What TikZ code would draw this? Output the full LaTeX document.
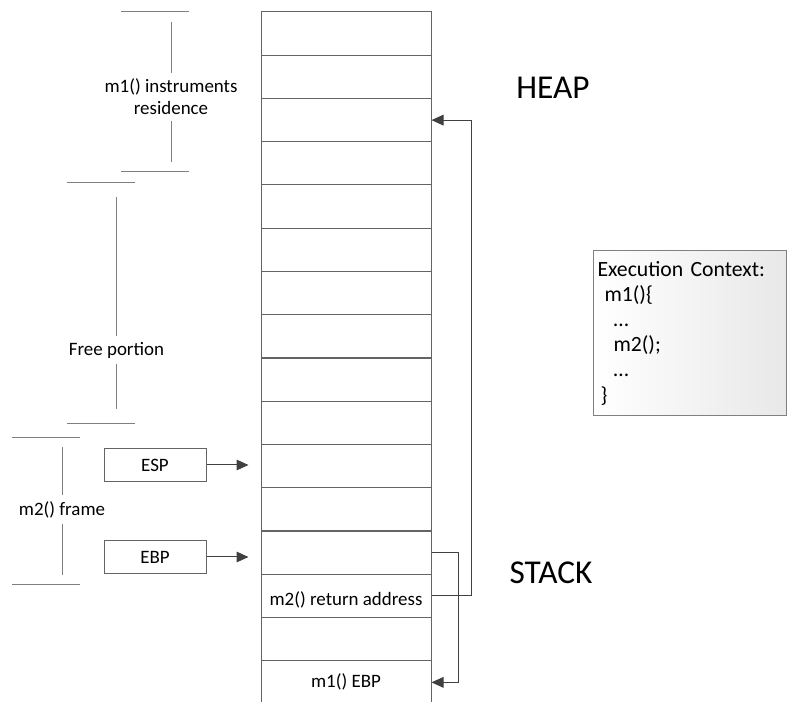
\documentclass[tikz,border=0pt]{standalone}
\usepackage{fontspec}
\setmainfont{Carlito}
\usetikzlibrary{arrows.meta}

\definecolor{rimgray}{RGB}{100,100,100}
\definecolor{bargray}{RGB}{128,128,128}
\definecolor{tipgray}{RGB}{64,64,64}

\newcommand{\smallfont}{\fontsize{14.2pt}{16.5pt}\selectfont}
\newcommand{\ctxfont}{\fontsize{16.3pt}{18.9pt}\selectfont}
\newcommand{\bigfont}{\fontsize{25pt}{29pt}\selectfont}

\tikzset{
  cell/.style={draw=rimgray, line width=0.75pt, minimum width=127.5pt,
    minimum height=32.44pt, inner sep=0pt, font=\smallfont},
  ptrbox/.style={draw=rimgray, line width=0.75pt, minimum width=76.5pt,
    minimum height=25pt, inner sep=0pt, font=\smallfont},
  lbl/.style={font=\smallfont, align=center, inner sep=4.5pt},
  brk/.style={draw=bargray, line width=0.75pt},
  ptr/.style={draw=tipgray, line width=0.75pt,
    -{Triangle[length=9pt,width=8pt]}},
  ctxbox/.style={draw=bargray, line width=0.75pt, left color=white,
    right color=black!9, align=left, font=\ctxfont, text width=138.75pt,
    minimum height=123.75pt, inner xsep=3pt, inner ysep=8pt,
    anchor=north west},
}

\begin{document}
\begin{tikzpicture}[x=0.75pt,y=0.75pt,yscale=-1,xscale=1]
  \useasboundingbox (0,0) rectangle (790,702);

  % stack column, one cell per slot
  \foreach \i in {0,...,15}
    \node[cell] (r\i) at (346,33.625+43.25*\i) {};
  \node[font=\smallfont] at ([yshift=3pt]r13.center) {m2() return address};
  \node[font=\smallfont] at (r15.center) {m1() EBP};

  % region names
  \node[font=\bigfont, inner sep=0pt] (heap) at (553,87.5) {HEAP};
  \node[font=\bigfont, inner sep=0pt] (stack) at (551,573) {STACK};

  % m1() instruments residence
  \node[lbl] (m1res) at (171,97) {m1() instruments\\residence};
  \coordinate (m1top) at (171,22);
  \coordinate (m1bot) at (171,162);
  \draw[brk] (121,12) -- (189,12) (121,172) -- (189,172);
  \draw[brk] (m1res) -- (m1top) (m1res) -- (m1bot);

  % free portion
  \node[lbl] (free) at (116.5,350) {Free portion};
  \coordinate (freetop) at (116.5,197);
  \coordinate (freebot) at (116.5,409);
  \draw[brk] (67,183) -- (135,183) (67,424) -- (135,424);
  \draw[brk] (free) -- (freetop) (free) -- (freebot);

  % m2() frame
  \node[lbl] (m2fr) at (62,509.5) {m2() frame};
  \coordinate (m2top) at (62,447);
  \coordinate (m2bot) at (62,575);
  \draw[brk] (12,438) -- (80,438) (12,585) -- (80,585);
  \draw[brk] (m2fr) -- (m2top) (m2fr) -- (m2bot);

  % registers
  \node[ptrbox] (esp) at (155,465) {ESP};
  \node[ptrbox] (ebp) at (155,557) {EBP};
  \draw[ptr, shorten >=9pt] (esp) -- (esp -| r10.west);
  \draw[ptr, shorten >=9pt] (ebp) -- (ebp -| r12.west);

  % saved links
  \draw[ptr] (r13.east) -- ++(40,0) |- (r2.east);
  \draw[ptr] (r12.east) -- ++(27,0) |- (r15.east);

  % execution context
  \node[ctxbox] (ctx) at (593,250) {Execution Context:\\
    \hspace*{5.25pt}m1()\{\\
    \hspace*{12pt}…\\
    \hspace*{12pt}m2();\\
    \hspace*{12pt}…\\
    \hspace*{2.25pt}\}};
\end{tikzpicture}
\end{document}
